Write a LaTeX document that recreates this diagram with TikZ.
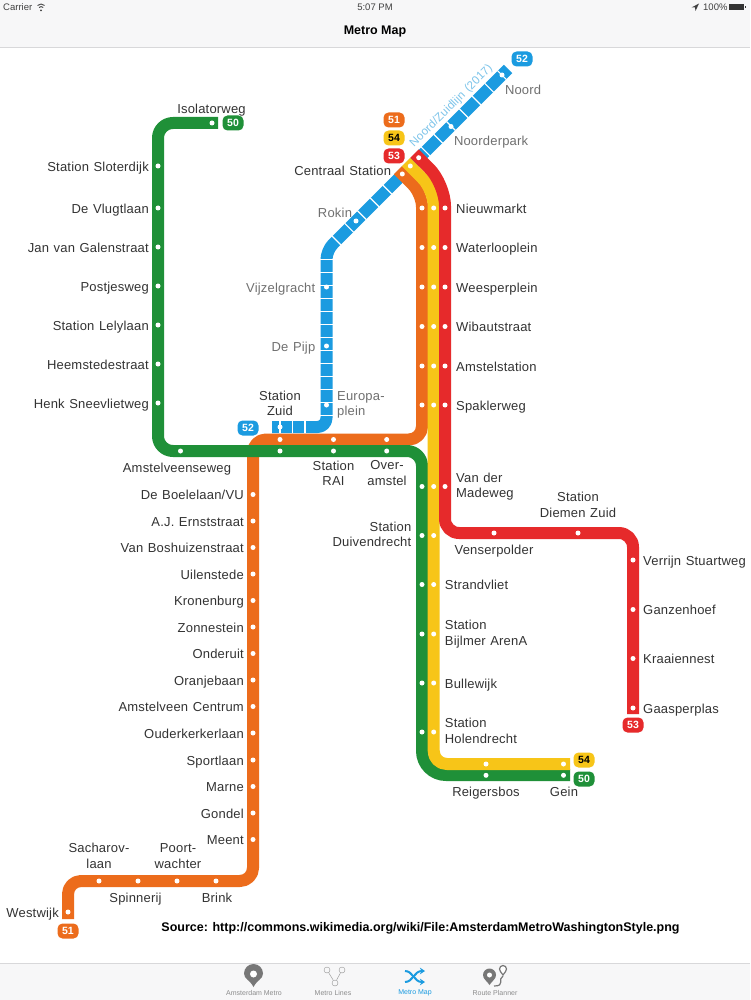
\documentclass[tikz,border=0pt]{standalone}
\usepackage{fontspec}
\setmainfont{Liberation Sans}
\newfontfamily\stationfont[LetterSpace=1.5,WordSpace=1.2]{Liberation Sans}
\usetikzlibrary{arrows.meta,calc,positioning}
\definecolor{line50}{HTML}{1F9038}
\definecolor{line51}{HTML}{EC6C1C}
\definecolor{line52}{HTML}{1B9BE0}
\definecolor{line53}{HTML}{E62A2B}
\definecolor{line54}{HTML}{F7C518}
\definecolor{barfill}{HTML}{F7F7F8}
\definecolor{barline}{HTML}{D8D8DA}
\definecolor{inktext}{HTML}{333333}
\definecolor{greytext}{HTML}{707070}
\definecolor{planned}{HTML}{7CC4EA}
\definecolor{tabgrey}{HTML}{777777}
\newcommand{\stationstrut}{\rule[-2.5pt]{0pt}{15.5pt}}
\tikzstyle{metroline}=[
  line width=12pt,
  line cap=butt,
  line join=round,
]
\tikzstyle{blocktick}=[
  color=white,
  line width=12.6pt,
  line cap=butt,
]
\tikzstyle{stop}=[
  circle,
  fill=white,
  draw=none,
  inner sep=0pt,
  minimum size=5pt,
]
\tikzstyle{station}=[
  color=inktext,
  font={\stationfont\fontsize{13}{15.6}\selectfont},
  inner sep=0pt,
  outer sep=0pt,
  align=center,
  execute at begin node=\stationstrut,
  execute at end node=\stationstrut,
]
\tikzstyle{stationleft}=[station, align=right]
\tikzstyle{stationright}=[station, align=left]
\tikzstyle{future}=[station, color=greytext]
\tikzstyle{badge}=[
  font={\fontsize{10.5}{12}\selectfont\bfseries},
  text=white,
  inner sep=0pt,
  minimum height=15pt,
  minimum width=21pt,
  rounded corners=5pt,
]
\tikzstyle{barlabel}=[
  inner sep=0pt,
  color=black!75,
  font={\fontsize{9.5}{11}\selectfont},
]
\tikzstyle{tablabel}=[
  inner sep=0pt,
  color=black!45,
  font={\fontsize{7}{8}\selectfont},
]
\tikzset{
  x=1pt,
  y=-1pt,
  node distance=6.5pt,
}
\begin{document}
\begin{tikzpicture}
      \useasboundingbox (0,0) rectangle (750,1000);
      \fill [white] (0,0) rectangle (750,1000);
      %% bars
      \fill [barfill] (0,0) rectangle (750,47);
      \draw [barline] (0,47.5) -- (750,47.5);
      \fill [barfill] (0,964) rectangle (750,1000);
      \draw [barline] (0,963.5) -- (750,963.5);
      \node (carrier) [barlabel, anchor=west] at (3,7.5) {Carrier};
      \node (clock) [barlabel] at (375,7.5) {5:07 PM};
      \node (charge) [barlabel, anchor=west] at (703,7.5) {100\%};
      \node (title) [color=black, inner sep=0pt, font={\fontsize{12.5}{15}\selectfont\bfseries}] at (375,32) {Metro Map};
      \draw [black!75, line width=.9pt] (37.5,5.5) arc [start angle=135, end angle=45, radius=5pt];
      \draw [black!75, line width=.9pt] (39,7.5) arc [start angle=135, end angle=45, radius=3pt];
      \fill [black!75] (41,10.5) circle [radius=1pt];
      \fill [black!75] (699,3.5) -- (691.5,7.5) -- (695,7.5) -- (695.5,11) -- cycle;
      \fill [black!80] (729,4) rectangle (744,10.5);
      \fill [black!80] (744.5,6) rectangle (745.5,8.5);
      %% route coordinates
      \coordinate (end50) at (218,123);
      \coordinate (isolatorbend) at (158,123);
      \coordinate (westbend) at (158,451);
      \coordinate (eastbend) at (422,451);
      \coordinate (southbend) at (422,775);
      \coordinate (gein50) at (570,775);
      \coordinate (end51) at (68,919);
      \coordinate (westbend51) at (68,881);
      \coordinate (brinkbend) at (253,881);
      \coordinate (zuidbend) at (253,439.5);
      \coordinate (spaklerbend) at (422,439.5);
      \coordinate (centraalbend51) at (422,194);
      \coordinate (centraal51) at (398,170);
      \coordinate (centraal54) at (406,162);
      \coordinate (centraalbend54) at (433.7,189.7);
      \coordinate (southbend54) at (433.7,764);
      \coordinate (gein54) at (570,764);
      \coordinate (centraal53) at (414.5,153.5);
      \coordinate (centraalbend53) at (445,184);
      \coordinate (venserbend) at (445,533);
      \coordinate (diemenbend) at (633,533);
      \coordinate (end53) at (633,714);
      \coordinate (noordend) at (508,69);
      \coordinate (vijzelbend) at (326.5,250.5);
      \coordinate (europabend) at (326.5,427);
      \coordinate (zuidend) at (272,427);
      %% lines
      \draw [metroline, line52] (noordend) [rounded corners=9pt] -- (vijzelbend) -- (europabend) -- (zuidend);
      \draw [blocktick, dash pattern=on 1.2pt off 16.8pt, dash phase=-8pt] (noordend) -- ($(vijzelbend)+(3,-3)$);
      \draw [blocktick, dash pattern=on 1.2pt off 11.8pt, dash phase=-2pt] ($(vijzelbend)+(0,6)$) -- ($(europabend)+(0,-10)$);
      \draw [blocktick, dash pattern=on 1.2pt off 11.3pt, dash phase=-5pt] ($(europabend)+(-16,0)$) -- (zuidend);
      \draw [metroline, line51] (end51) [rounded corners=13pt] -- (westbend51) -- (brinkbend) -- (zuidbend) -- (spaklerbend) -- (centraalbend51) -- (centraal51);
      \draw [metroline, line50] (end50) [rounded corners=15pt] -- (isolatorbend) -- (westbend) -- (eastbend) [rounded corners=24pt] -- (southbend) -- (gein50);
      \draw [metroline, line54] (centraal54) [rounded corners=16pt] -- (centraalbend54) [rounded corners=13pt] -- (southbend54) -- (gein54);
      \draw [metroline, line53] (centraal53) [rounded corners=22pt] -- (centraalbend53) [rounded corners=14pt] -- (venserbend) -- (diemenbend) -- (end53);
      \node (tunnel) [inner sep=0pt, color=planned, rotate=45, font={\stationfont\fontsize{11.5}{13}\selectfont}] at (451.5,106) {Noord/Zuidlijn (2017)};
      %% line 50, west side
      \node (isolatorweg) [stop] at (212,123) {};
      \node (isolatorwegtext) [station] at (211.5,108) {Isolatorweg};
      \node (sloterdijk) [stop] at (158,166) {};
      \node (sloterdijktext) [stationleft, left=of sloterdijk] {Station Sloterdijk};
      \node (vlugtlaan) [stop] at (158,208) {};
      \node (vlugtlaantext) [stationleft, left=of vlugtlaan] {De Vlugtlaan};
      \node (galenstraat) [stop] at (158,247) {};
      \node (galenstraattext) [stationleft, left=of galenstraat] {Jan van Galenstraat};
      \node (postjesweg) [stop] at (158,286) {};
      \node (postjeswegtext) [stationleft, left=of postjesweg] {Postjesweg};
      \node (lelylaan) [stop] at (158,325) {};
      \node (lelylaantext) [stationleft, left=of lelylaan] {Station Lelylaan};
      \node (heemstede) [stop] at (158,364) {};
      \node (heemstedetext) [stationleft, left=of heemstede] {Heemstedestraat};
      \node (sneevliet) [stop] at (158,403) {};
      \node (sneevliettext) [stationleft, left=of sneevliet] {Henk Sneevlietweg};
      \node (amstelveenseweg) [stop] at (180.5,451) {};
      \node (amstelveensewegtext) [station] at (177,467) {Amstelveenseweg};
      %% line 52
      \node (noord) [stop] at (502,75) {};
      \node (noordtext) [future, anchor=west] at (505,89) {Noord};
      \node (noorderpark) [stop] at (451,126.5) {};
      \node (noorderparktext) [future, anchor=west] at (454,140) {Noorderpark};
      \node (rokin) [stop] at (356,221) {};
      \node (rokintext) [future, anchor=east] at (352,212) {Rokin};
      \node (vijzelgracht) [stop] at (326.5,287) {};
      \node (vijzelgrachttext) [future, left=8.5pt of vijzelgracht] {Vijzelgracht};
      \node (pijp) [stop] at (326.5,346) {};
      \node (pijptext) [future, left=8.5pt of pijp] {De Pijp};
      \node (europaplein) [stop] at (326.5,405) {};
      \node (europapleintext) [future, align=left, right=8pt of europaplein] {Europa-\\plein};
      \node (zuid52) [stop] at (280,427) {};
      \node (zuidtext) [station] at (280,404.5) {Station\\Zuid};
      %% shared trunk over the Zuid stations
      \node (zuid51) [stop] at (280,439.5) {};
      \node (zuid50) [stop] at (280,451) {};
      \node (rai51) [stop] at (333.5,439.5) {};
      \node (rai50) [stop] at (333.5,451) {};
      \node (raitext) [station] at (333.5,474.5) {Station\\RAI};
      \node (overamstel51) [stop] at (386.7,439.5) {};
      \node (overamstel50) [stop] at (386.7,451) {};
      \node (overamsteltext) [station] at (387,474.5) {Over-\\amstel};
      %% line 51, south-west
      \node (boelelaan) [stop] at (253,494.5) {};
      \node (boelelaantext) [stationleft, left=of boelelaan] {De Boelelaan/VU};
      \node (ernststraat) [stop] at (253,521) {};
      \node (ernststraattext) [stationleft, left=of ernststraat] {A.J. Ernststraat};
      \node (boshuizen) [stop] at (253,547.5) {};
      \node (boshuizentext) [stationleft, left=of boshuizen] {Van Boshuizenstraat};
      \node (uilenstede) [stop] at (253,574) {};
      \node (uilenstedetext) [stationleft, left=of uilenstede] {Uilenstede};
      \node (kronenburg) [stop] at (253,600.5) {};
      \node (kronenburgtext) [stationleft, left=of kronenburg] {Kronenburg};
      \node (zonnestein) [stop] at (253,627) {};
      \node (zonnesteintext) [stationleft, left=of zonnestein] {Zonnestein};
      \node (onderuit) [stop] at (253,653.5) {};
      \node (onderuittext) [stationleft, left=of onderuit] {Onderuit};
      \node (oranjebaan) [stop] at (253,680) {};
      \node (oranjebaantext) [stationleft, left=of oranjebaan] {Oranjebaan};
      \node (centrum) [stop] at (253,706.5) {};
      \node (centrumtext) [stationleft, left=of centrum] {Amstelveen Centrum};
      \node (ouderkerk) [stop] at (253,733) {};
      \node (ouderkerktext) [stationleft, left=of ouderkerk] {Ouderkerkerlaan};
      \node (sportlaan) [stop] at (253,760) {};
      \node (sportlaantext) [stationleft, left=of sportlaan] {Sportlaan};
      \node (marne) [stop] at (253,786.5) {};
      \node (marnetext) [stationleft, left=of marne] {Marne};
      \node (gondel) [stop] at (253,813) {};
      \node (gondeltext) [stationleft, left=of gondel] {Gondel};
      \node (meent) [stop] at (253,839.5) {};
      \node (meenttext) [stationleft, left=of meent] {Meent};
      \node (brink) [stop] at (216,881) {};
      \node (brinktext) [station] at (217,897) {Brink};
      \node (poortwachter) [stop] at (177,881) {};
      \node (poortwachtertext) [station] at (178,857) {Poort-\\wachter};
      \node (spinnerij) [stop] at (138,881) {};
      \node (spinnerijtext) [station] at (135.5,897) {Spinnerij};
      \node (sacharov) [stop] at (99,881) {};
      \node (sacharovtext) [station] at (99,857) {Sacharov-\\laan};
      \node (westwijk) [stop] at (68,912) {};
      \node (westwijktext) [stationleft, left=of westwijk] {Westwijk};
      %% centraal and the three line trunk
      \node (centraalO) [stop] at (402.3,174) {};
      \node (centraalY) [stop] at (410.3,166) {};
      \node (centraalR) [stop] at (418.7,157.7) {};
      \node (centraaltext) [station, anchor=east] at (391,170) {Centraal Station};
      \node (nieuwmarktO) [stop] at (422,208) {};
      \node (nieuwmarktY) [stop] at (433.7,208) {};
      \node (nieuwmarktR) [stop] at (445,208) {};
      \node (nieuwmarkttext) [stationright, right=8.5pt of nieuwmarktR] {Nieuwmarkt};
      \node (waterlooO) [stop] at (422,247.5) {};
      \node (waterlooY) [stop] at (433.7,247.5) {};
      \node (waterlooR) [stop] at (445,247.5) {};
      \node (waterlootext) [stationright, right=8.5pt of waterlooR] {Waterlooplein};
      \node (weesperO) [stop] at (422,287) {};
      \node (weesperY) [stop] at (433.7,287) {};
      \node (weesperR) [stop] at (445,287) {};
      \node (weespertext) [stationright, right=8.5pt of weesperR] {Weesperplein};
      \node (wibautO) [stop] at (422,326.5) {};
      \node (wibautY) [stop] at (433.7,326.5) {};
      \node (wibautR) [stop] at (445,326.5) {};
      \node (wibauttext) [stationright, right=8.5pt of wibautR] {Wibautstraat};
      \node (amstelO) [stop] at (422,366) {};
      \node (amstelY) [stop] at (433.7,366) {};
      \node (amstelR) [stop] at (445,366) {};
      \node (amsteltext) [stationright, right=8.5pt of amstelR] {Amstelstation};
      \node (spaklerO) [stop] at (422,405) {};
      \node (spaklerY) [stop] at (433.7,405) {};
      \node (spaklerR) [stop] at (445,405) {};
      \node (spaklertext) [stationright, right=8.5pt of spaklerR] {Spaklerweg};
      %% after the fork
      \node (madewegG) [stop] at (422,486.5) {};
      \node (madewegY) [stop] at (433.7,486.5) {};
      \node (madewegR) [stop] at (445,486.5) {};
      \node (madewegtext) [stationright, right=8.5pt of madewegR] {Van der\\Madeweg};
      \node (duivendrechtG) [stop] at (422,535.5) {};
      \node (duivendrechtY) [stop] at (433.7,535.5) {};
      \node (duivendrechttext) [stationleft, left=8pt of duivendrechtG] {Station\\Duivendrecht};
      \node (strandvlietG) [stop] at (422,584.5) {};
      \node (strandvlietY) [stop] at (433.7,584.5) {};
      \node (strandvliettext) [stationright, right=8.5pt of strandvlietY] {Strandvliet};
      \node (bijlmerG) [stop] at (422,634) {};
      \node (bijlmerY) [stop] at (433.7,634) {};
      \node (bijlmertext) [stationright, right=8.5pt of bijlmerY] {Station\\Bijlmer ArenA};
      \node (bullewijkG) [stop] at (422,683) {};
      \node (bullewijkY) [stop] at (433.7,683) {};
      \node (bullewijktext) [stationright, right=8.5pt of bullewijkY] {Bullewijk};
      \node (holendrechtG) [stop] at (422,732) {};
      \node (holendrechtY) [stop] at (433.7,732) {};
      \node (holendrechttext) [stationright, right=8.5pt of holendrechtY] {Station\\Holendrecht};
      \node (reigersbosY) [stop] at (486,764) {};
      \node (reigersbosG) [stop] at (486,775.3) {};
      \node (reigersbostext) [station] at (486,791) {Reigersbos};
      \node (geinY) [stop] at (563.5,764) {};
      \node (geinG) [stop] at (563.5,775.3) {};
      \node (geintext) [station] at (564,791) {Gein};
      %% line 53 east
      \node (venserpolder) [stop] at (494,533) {};
      \node (venserpoldertext) [station] at (494,549) {Venserpolder};
      \node (diemen) [stop] at (578,533) {};
      \node (diementext) [station] at (578,506) {Station\\Diemen Zuid};
      \node (verrijn) [stop] at (633,560) {};
      \node (verrijntext) [stationright, right=7.5pt of verrijn] {Verrijn Stuartweg};
      \node (ganzenhoef) [stop] at (633,609.5) {};
      \node (ganzenhoeftext) [stationright, right=7.5pt of ganzenhoef] {Ganzenhoef};
      \node (kraaiennest) [stop] at (633,658.5) {};
      \node (kraaiennesttext) [stationright, right=7.5pt of kraaiennest] {Kraaiennest};
      \node (gaasperplas) [stop] at (633,708) {};
      \node (gaasperplastext) [stationright, right=7.5pt of gaasperplas] {Gaasperplas};
      %% badges
      \node (badge50north) [badge, fill=line50] at (233,123) {50};
      \node (badge50south) [badge, fill=line50] at (584,779) {50};
      \node (badge51north) [badge, fill=line51] at (394,120) {51};
      \node (badge51south) [badge, fill=line51] at (68,931) {51};
      \node (badge52north) [badge, fill=line52] at (522,59) {52};
      \node (badge52south) [badge, fill=line52] at (248,428) {52};
      \node (badge53north) [badge, fill=line53] at (394,156) {53};
      \node (badge53south) [badge, fill=line53] at (633,725) {53};
      \node (badge54north) [badge, fill=line54, text=black] at (394,138) {54};
      \node (badge54south) [badge, fill=line54, text=black] at (584,760) {54};
      %% source
      \node (source) [inner sep=0pt, color=black, font={\fontsize{12.5}{15}\selectfont\bfseries}] at (420.5,928) {Source: http://commons.wikimedia.org/wiki/File:AmsterdamMetroWashingtonStyle.png};
      %% tab bar
      \fill [tabgrey] (253.5,987) .. controls (250,980) and (244,979) .. (244,973.5) arc [start angle=180, end angle=0, radius=9.5pt] .. controls (263,979) and (257,980) .. (253.5,987) -- cycle;
      \fill [white] (253.5,974) circle [radius=3.5pt];
      \node (tabmetro) [tablabel] at (254,993) {Amsterdam Metro};
      \node (linesA) [circle, draw=tabgrey!80, inner sep=0pt, minimum size=6pt] at (327,970) {};
      \node (linesB) [circle, draw=tabgrey!80, inner sep=0pt, minimum size=6pt] at (342,970) {};
      \node (linesC) [circle, draw=tabgrey!80, inner sep=0pt, minimum size=6pt] at (335,983) {};
      \draw [tabgrey!80] (linesA) -- (linesC);
      \draw [tabgrey!80] (linesB) -- (linesC);
      \node (tablines) [tablabel] at (333,993) {Metro Lines};
      \draw [-{Stealth[length=5pt,width=6.5pt]}, line52, line width=2pt] (405,971) .. controls (413,971) and (414,982) .. (425,982);
      \draw [-{Stealth[length=5pt,width=6.5pt]}, line52, line width=2pt] (405,982) .. controls (413,982) and (414,971) .. (425,971);
      \node (tabmap) [tablabel, color=line52] at (415,993) {Metro Map};
      \fill [tabgrey] (489.5,985) .. controls (487,981) and (483,979) .. (483,975) arc [start angle=180, end angle=0, radius=6.5pt] .. controls (496,979) and (492,981) .. (489.5,985) -- cycle;
      \fill [white] (489.5,975) circle [radius=2.5pt];
      \draw [tabgrey, line width=1.2pt] (494,986) .. controls (506,986) and (497,979) .. (503,976);
      \draw [tabgrey, line width=1.2pt, fill=white] (503,975) .. controls (501,972) and (499.5,971) .. (499.5,969) arc [start angle=180, end angle=0, radius=3.5pt] .. controls (506.5,971) and (505,972) .. (503,975) -- cycle;
      \node (tabplanner) [tablabel] at (495,993) {Route Planner};
    \end{tikzpicture}
\end{document}
